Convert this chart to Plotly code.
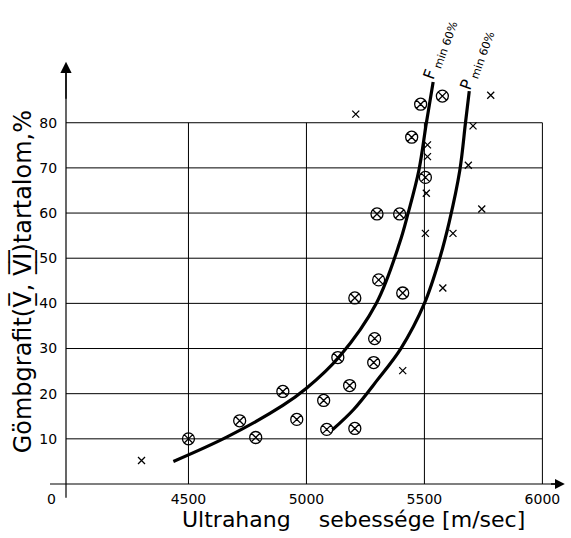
import plotly.graph_objects as go

# ---- data ----
circ_x = [4500, 4717, 4785, 4959, 4900, 5086, 5073, 5205, 5183, 5133, 5285,
          5289, 5205, 5306, 5408, 5299, 5395, 5504, 5446, 5484, 5576]
circ_y = [10.0, 14.0, 10.3, 14.3, 20.5, 12.1, 18.5, 12.3, 21.8, 28.0, 26.9,
          32.2, 41.2, 45.2, 42.3, 59.8, 59.8, 67.9, 76.8, 84.1, 85.9]
cross_x = [4301, 5209, 5781, 5706, 5513, 5513, 5686, 5508, 5743, 5504, 5621, 5578, 5408]
cross_y = [5.2, 81.9, 86.1, 79.3, 75.1, 72.5, 70.6, 64.4, 60.9, 55.5, 55.5, 43.4, 25.1]
f_x = [4436, 4666, 4900, 5000, 5141, 5297, 5395, 5430, 5477, 5508, 5537]
f_y = [5.0, 10.5, 17.4, 21.2, 28.3, 40.1, 53.4, 59.8, 69.6, 79.9, 89.0]
p_x = [5110, 5200, 5300, 5400, 5500, 5565, 5605, 5650, 5674, 5690]
p_y = [12.0, 16.5, 23.0, 30.0, 40.0, 50.0, 58.0, 69.5, 80.0, 87.0]
x_ticks = [4500, 5000, 5500, 6000]
x_labels = ["4500", "5000", "5500", "6000"]
y_ticks = [10, 20, 30, 40, 50, 60, 70, 80]
y_labels = ["10", "20", "30", "40", "50", "60", "70", "80"]
f_label = "F<sub> min 60%</sub>"
p_label = "P<sub> min 60%</sub>"
x_title = "Ultrahang    sebessége [m/sec]"
y_title = "Gömbgrafit(V\u0332\u0305, V\u0332\u0305I\u0332\u0305)tartalom,%"

X0, X1 = 3981, 6100
Y0, Y1 = 0, 95
FONT = "DejaVu Sans"

fig = go.Figure()

fig.add_trace(go.Scatter(x=f_x, y=f_y, mode="lines", line=dict(color="black", width=3.2, shape="spline"),
                         showlegend=False, hoverinfo="skip"))
fig.add_trace(go.Scatter(x=p_x, y=p_y, mode="lines", line=dict(color="black", width=3.2, shape="spline"),
                         showlegend=False, hoverinfo="skip"))
fig.add_trace(go.Scatter(x=circ_x, y=circ_y, mode="markers",
                         marker=dict(symbol="circle-x-open", size=12, color="black", line=dict(width=1.3)),
                         showlegend=False))
fig.add_trace(go.Scatter(x=cross_x, y=cross_y, mode="markers",
                         marker=dict(symbol="x-thin-open", size=7, color="black", line=dict(width=1.3)),
                         showlegend=False))

shapes = []
for yv in y_ticks:
    shapes.append(dict(type="line", xref="x", yref="y", x0=X0, x1=x_ticks[-1], y0=yv, y1=yv,
                       line=dict(color="black", width=1), layer="below"))
for xv in x_ticks:
    shapes.append(dict(type="line", xref="x", yref="y", x0=xv, x1=xv, y0=Y0, y1=y_ticks[-1],
                       line=dict(color="black", width=1), layer="below"))
# axis lines (extending past origin)
shapes.append(dict(type="line", xref="paper", yref="paper", x0=-0.032, x1=0.985, y0=0, y1=0,
                   line=dict(color="black", width=1.2)))
shapes.append(dict(type="line", xref="paper", yref="paper", x0=0, x1=0, y0=-0.032, y1=0.97,
                   line=dict(color="black", width=1.2)))

annotations = [
    dict(x=X0, y=93.5, ax=X0, ay=85, xref="x", yref="y", axref="x", ayref="y", text="",
         showarrow=True, arrowhead=2, arrowsize=1.6, arrowwidth=1.4, arrowcolor="black"),
    dict(x=6095, y=0, ax=6030, ay=0, xref="x", yref="y", axref="x", ayref="y", text="",
         showarrow=True, arrowhead=2, arrowsize=1.4, arrowwidth=1.4, arrowcolor="black"),
    dict(x=-0.03, y=-0.012, xref="paper", yref="paper", text="0", showarrow=False,
         xanchor="center", yanchor="top", font=dict(family=FONT, size=14, color="black")),
    dict(x=0.748, y=1.012, xref="paper", yref="paper", text=f_label, showarrow=False, textangle=-70,
         xanchor="center", yanchor="middle", font=dict(family=FONT, size=16, color="black")),
    dict(x=0.820, y=0.988, xref="paper", yref="paper", text=p_label, showarrow=False, textangle=-70,
         xanchor="center", yanchor="middle", font=dict(family=FONT, size=16, color="black")),
    dict(x=0.575, y=-0.083, xref="paper", yref="paper", text=x_title, showarrow=False,
         xanchor="center", yanchor="middle", font=dict(family=FONT, size=22, color="black")),
    dict(x=-0.088, y=0.47, xref="paper", yref="paper", text=y_title, showarrow=False,
         textangle=-90, xanchor="center", yanchor="middle", font=dict(family=FONT, size=24, color="black")),
]

fig.update_layout(
    width=571, height=538,
    margin=dict(l=66, r=5, t=55, b=53.5),
    paper_bgcolor="white", plot_bgcolor="white",
    shapes=shapes, annotations=annotations,
    xaxis=dict(range=[X0, X1], tickvals=x_ticks, ticktext=x_labels, showgrid=False,
               zeroline=False, showline=False, ticks="outside", ticklen=2, tickcolor="white",
               tickfont=dict(family=FONT, size=14, color="black")),
    yaxis=dict(range=[Y0, Y1], tickvals=y_ticks, ticktext=y_labels, showgrid=False,
               zeroline=False, showline=False, ticks="outside", ticklen=5, tickcolor="white",
               tickfont=dict(family=FONT, size=14, color="black")),
    showlegend=False,
)

fig.write_html("out.html")
